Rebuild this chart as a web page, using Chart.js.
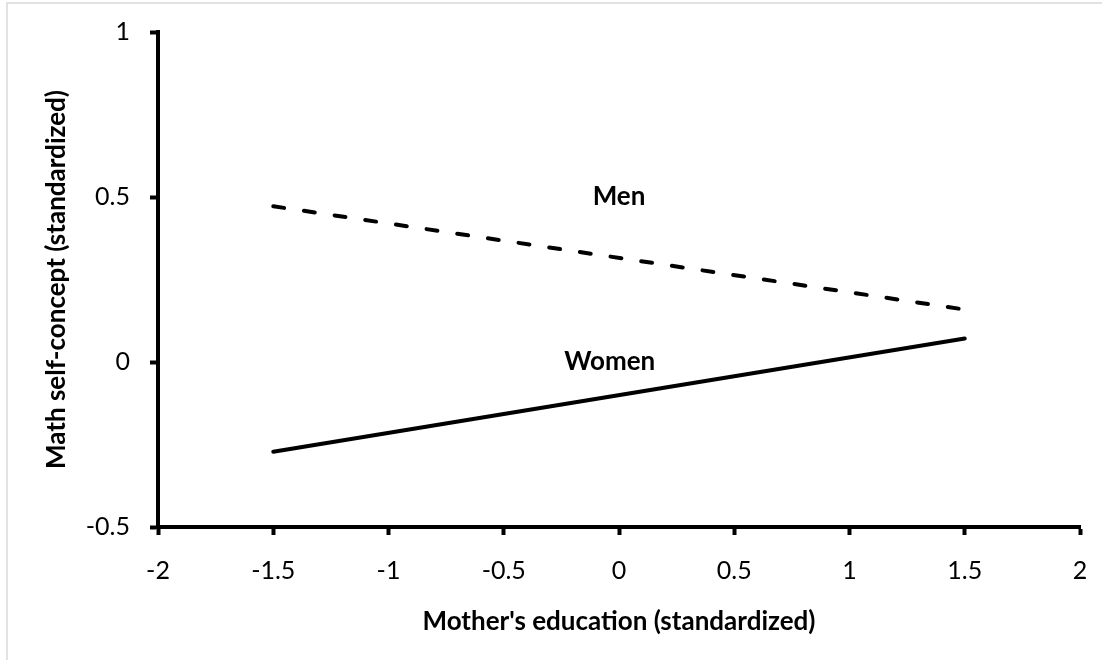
<!DOCTYPE html>
<html>
<head>
<meta charset="utf-8">
<script src="https://cdn.jsdelivr.net/npm/chart.js@4/dist/chart.umd.min.js"></script>
<style>
  html, body { margin: 0; padding: 0; background: #ffffff; }
  #wrap { width: 1102px; height: 660px; position: relative; }
</style>
</head>
<body>
<div id="wrap"><canvas id="c" width="1102" height="660"></canvas></div>
<script>
// ---- data ----
const menX = [-1.5, 1.5];
const menY = [0.472, 0.159];
const womenX = [-1.5, 1.5];
const womenY = [-0.272, 0.071];
const xTicks = [-2, -1.5, -1, -0.5, 0, 0.5, 1, 1.5, 2];
const xTickLabels = ['-2', '-1.5', '-1', '-0.5', '0', '0.5', '1', '1.5', '2'];
const yTicks = [-0.5, 0, 0.5, 1];
const yTickLabels = ['-0.5', '0', '0.5', '1'];
const seriesNames = ['Men', 'Women'];
const labelX = [0, -0.04];
const labelY = [0.5, 0];
const xTitle = "Mother's education (standardized)";
const yTitle = 'Math self-concept (standardized)';

const FONT = 'Lato, "Open Sans", sans-serif';

const toPts = (xs, ys) => xs.map((x, i) => ({ x: x, y: ys[i] }));

const framePlugin = {
  id: 'frame',
  beforeDraw(chart) {
    const ctx = chart.ctx;
    ctx.save();
    ctx.fillStyle = '#ffffff';
    ctx.fillRect(0, 0, chart.width, chart.height);
    ctx.strokeStyle = '#d9d9d9';
    ctx.lineWidth = 1.5;
    ctx.beginPath();
    ctx.moveTo(7, chart.height);
    ctx.lineTo(7, 3);
    ctx.lineTo(chart.width, 3);
    ctx.stroke();
    ctx.restore();
  }
};

const labelPlugin = {
  id: 'seriesLabels',
  afterDatasetsDraw(chart) {
    const ctx = chart.ctx;
    const xs = chart.scales.x, ys = chart.scales.y;
    ctx.save();
    ctx.fillStyle = '#000000';
    ctx.font = 'bold 26px ' + FONT;
    ctx.textAlign = 'center';
    ctx.textBaseline = 'middle';
    seriesNames.forEach((name, i) => {
      ctx.fillText(name, xs.getPixelForValue(labelX[i]), ys.getPixelForValue(labelY[i]));
    });
    ctx.restore();
  }
};

new Chart(document.getElementById('c'), {
  type: 'scatter',
  data: {
    datasets: [
      {
        label: seriesNames[0],
        data: toPts(menX, menY),
        showLine: true,
        borderColor: '#000000',
        borderWidth: 4,
        borderDash: [11, 20],
        borderCapStyle: 'round',
        pointRadius: 0,
        tension: 0
      },
      {
        label: seriesNames[1],
        data: toPts(womenX, womenY),
        showLine: true,
        borderColor: '#000000',
        borderWidth: 4,
        borderCapStyle: 'round',
        pointRadius: 0,
        tension: 0
      }
    ]
  },
  options: {
    responsive: false,
    animation: false,
    devicePixelRatio: 1,
    layout: { padding: { left: 0, right: 22, top: 32, bottom: 0 } },
    plugins: {
      legend: { display: false },
      tooltip: { enabled: false }
    },
    scales: {
      x: {
        type: 'linear',
        min: -2,
        max: 2,
        afterBuildTicks: (s) => { s.ticks = xTicks.map(v => ({ value: v })); },
        afterFit: (s) => { s.height = 133; s.paddingLeft = 0; s.paddingRight = 0; },
        ticks: {
          color: '#000000',
          font: { family: FONT, size: 25 },
          padding: 21,
          maxRotation: 0,
          callback: (v) => xTickLabels[xTicks.indexOf(v)]
        },
        grid: {
          drawOnChartArea: false,
          drawTicks: true,
          tickLength: 8,
          tickWidth: 4,
          tickColor: '#000000',
          color: '#000000'
        },
        border: { display: true, color: '#000000', width: 4 },
        title: {
          display: true,
          text: xTitle,
          color: '#000000',
          font: { family: FONT, size: 26, weight: 'bold' },
          padding: { top: 23, bottom: 23 }
        }
      },
      y: {
        type: 'linear',
        min: -0.5,
        max: 1,
        afterBuildTicks: (s) => { s.ticks = yTicks.map(v => ({ value: v })); },
        afterFit: (s) => { s.width = 158; s.paddingTop = 0; s.paddingBottom = 0; },
        ticks: {
          color: '#000000',
          font: { family: FONT, size: 25 },
          padding: 20,
          callback: (v) => yTickLabels[yTicks.indexOf(v)]
        },
        grid: {
          drawOnChartArea: false,
          drawTicks: true,
          tickLength: 8,
          tickWidth: 4,
          tickColor: '#000000',
          color: '#000000'
        },
        border: { display: true, color: '#000000', width: 4 },
        title: {
          display: true,
          text: yTitle,
          color: '#000000',
          font: { family: FONT, size: 26, weight: 'bold' },
          padding: { top: 41, bottom: 41 }
        }
      }
    }
  },
  plugins: [framePlugin, labelPlugin]
});
</script>
</body>
</html>
